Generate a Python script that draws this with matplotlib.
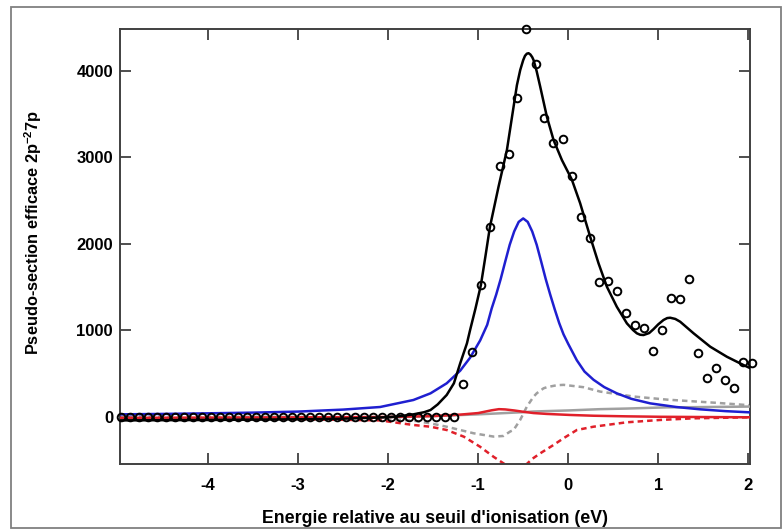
import matplotlib
matplotlib.use("Agg")
import matplotlib.pyplot as plt
from matplotlib.patches import Rectangle

plt.rcParams['font.family'] = ['Liberation Sans', 'DejaVu Sans']
plt.rcParams['axes.unicode_minus'] = False
plt.rcParams['mathtext.fontset'] = 'custom'
plt.rcParams['mathtext.rm'] = 'Liberation Sans:bold'
plt.rcParams['mathtext.bf'] = 'Liberation Sans:bold'
plt.rcParams['mathtext.it'] = 'Liberation Sans:bold'

# ---- experimental points (circles) ----
x_data = [-4.97, -4.87, -4.77, -4.67, -4.57, -4.47, -4.37, -4.27, -4.17, -4.07,
          -3.97, -3.87, -3.77, -3.67, -3.57, -3.47, -3.37, -3.27, -3.17, -3.07,
          -2.97, -2.87, -2.77, -2.67, -2.57, -2.47, -2.37, -2.27, -2.17, -2.07,
          -1.97, -1.87, -1.77, -1.67, -1.57, -1.47, -1.37, -1.27,
          -1.17, -1.07, -0.97, -0.87, -0.76, -0.66, -0.57, -0.47, -0.36, -0.27,
          -0.17, -0.06, 0.04, 0.14, 0.24, 0.34, 0.44, 0.54, 0.64, 0.74,
          0.84, 0.94, 1.04, 1.14, 1.24, 1.34, 1.44, 1.54, 1.64, 1.74,
          1.84, 1.94, 2.04]
y_data = [0, 0, 0, 0, 0, 0, 0, 0, 0, 0,
          0, 0, 0, 0, 0, 0, 0, 0, 0, 0,
          0, 0, 0, 0, 0, 0, 0, 0, 0, 0,
          0, 0, 0, 0, 0, 0, 0, 0,
          372, 742, 1520, 2187, 2900, 3035, 3686, 4476, 4072, 3447,
          3165, 3212, 2784, 2303, 2060, 1558, 1566, 1451, 1200, 1058,
          1020, 757, 997, 1374, 1358, 1590, 738, 441, 557, 422,
          333, 634, 622]

# ---- total fit (black) ----
x_fit = [-4.98, -4.0, -3.0, -2.5, -2.1, -1.9, -1.72, -1.6, -1.53, -1.45, -1.35,
         -1.27, -1.2, -1.125, -1.09, -1.03, -0.97, -0.92, -0.87, -0.774, -0.681,
         -0.607, -0.57, -0.533, -0.5, -0.48, -0.459, -0.44, -0.42, -0.40, -0.385,
         -0.35, -0.311, -0.237, -0.163,
         -0.07, 0.04, 0.133, 0.244, 0.337, 0.43, 0.54, 0.652, 0.72, 0.763, 0.80, 0.837,
         0.9, 0.948, 1.0, 1.059, 1.10, 1.133, 1.19, 1.244, 1.393, 1.578, 1.763, 1.948, 2.02]
y_fit = [-45, -40, -32, -25, -12, 0, 25, 50, 75, 140, 249,
         384, 615, 846, 1000, 1250, 1520, 1850, 2190, 2657, 3081,
         3581, 3830, 4006, 4120, 4170, 4195, 4200, 4185, 4155, 4121,
         3990, 3813, 3466, 3197,
         2965, 2740, 2465, 2079, 1771, 1500, 1269, 1077, 1000, 962, 945, 942,
         965, 1010, 1065, 1116, 1138, 1142, 1128, 1096, 962, 807, 691, 595, 560]

# ---- blue component ----
x_blue = [-4.98, -4.5, -4.0, -3.5, -3.0, -2.5, -2.09, -1.72, -1.53, -1.35, -1.2,
          -1.09, -0.978, -0.9, -0.85, -0.8, -0.75, -0.7, -0.65, -0.6, -0.55,
          -0.5, -0.45, -0.4, -0.35, -0.3, -0.25, -0.2, -0.15, -0.1, -0.052,
          0.0, 0.096, 0.181, 0.281, 0.4, 0.54, 0.7, 0.911, 1.2, 1.467, 1.75, 2.02]
y_blue = [25, 30, 37, 45, 57, 80, 110, 191, 268, 384, 530,
          680, 880, 1060, 1250, 1410, 1590, 1790, 1985, 2140, 2250,
          2290, 2250, 2140, 1985, 1790, 1590, 1410, 1240, 1080, 950,
          840, 650, 520, 425, 340, 268, 205, 152, 110, 83, 62, 48]

# ---- red solid component ----
x_red = [-4.98, -3.0, -2.0, -1.5, -1.2, -1.0, -0.85, -0.77, -0.7, -0.6, -0.5,
         -0.385, -0.24, 0.02, 0.28, 0.65, 1.02, 1.5, 2.02]
y_red = [-15, -10, -5, 5, 22, 40, 72, 85, 82, 70, 55,
         40, 30, 18, 9, 2, -3, -6, -9]

# ---- grey solid component ----
x_grey = [-4.98, -4.0, -3.0, -2.0, -1.5, -1.0, -0.5, -0.385, 0.0, 0.356, 0.65, 1.1, 1.39, 2.02]
y_grey = [-35, -30, -22, -10, 5, 25, 50, 58, 70, 85, 92, 106, 108, 115]

# ---- grey dashed component ----
x_gdash = [-4.98, -3.0, -2.5, -2.09, -1.72, -1.53, -1.35, -1.05, -0.83, -0.72,
           -0.644, -0.607, -0.533, -0.5, -0.459, -0.385, -0.348, -0.274, -0.237,
           -0.126, -0.05, 0.17, 0.356, 0.726, 1.1, 1.65, 2.02]
y_gdash = [0, -5, -15, -25, -48, -79, -118, -194, -232, -225,
           -173, -156, -38, 30, 115, 229, 270, 326, 339,
           362, 366, 339, 288, 231, 195, 158, 130]

# ---- red dashed component ----
x_rdash = [-4.98, -4.0, -3.0, -2.5, -2.09, -1.72, -1.53, -1.35, -1.16, -0.98,
           -0.83, -0.72, -0.65, -0.58, -0.5, -0.46, -0.4, -0.31, -0.163, -0.05,
           0.096, 0.28, 0.65, 1.02, 1.39, 2.02]
y_rdash = [-20, -25, -32, -38, -45, -98, -118, -156, -233, -349,
           -465, -541, -590, -605, -575, -549, -490, -425, -329, -250,
           -156, -118, -67, -40, -21, -9]

x_ticks = [-4, -3, -2, -1, 0, 1, 2]
y_ticks = [0, 1000, 2000, 3000, 4000]

fig = plt.figure(figsize=(7.84, 5.29), dpi=100)
ax = fig.add_axes([120 / 784, 65 / 529, 630 / 784, 435 / 529])

lw = 1.8
ax.plot(x_gdash, y_gdash, color='#a0a0a0', lw=lw, ls=(0, (2.2, 1.6)), zorder=2)
ax.plot(x_rdash, y_rdash, color='#e0202a', lw=lw, ls=(0, (2.2, 1.6)), zorder=2)
ax.plot(x_grey, y_grey, color='#a0a0a0', lw=lw, zorder=3)
ax.plot(x_red, y_red, color='#e0202a', lw=lw, zorder=3)
ax.plot(x_blue, y_blue, color='#1f1fd0', lw=lw, zorder=4)
ax.plot(x_fit, y_fit, color='black', lw=lw, zorder=5)
ax.plot(x_data, y_data, ls='none', marker='o', ms=5.5, mfc='none', mec='black',
        mew=1.4, zorder=6, clip_on=False)

ax.set_xlim(-4.98, 2.02)
ax.set_ylim(-549, 4480)
ax.set_xticks(x_ticks)
ax.set_xticklabels([str(t) for t in x_ticks])
ax.set_yticks(y_ticks)
ax.set_yticklabels([str(t) for t in y_ticks])
ax.tick_params(direction='in', length=8, width=1.3, color='#404040',
               top=True, right=True, labelsize=12)
ax.tick_params(axis='x', pad=10)
ax.tick_params(axis='y', pad=5)
for lab in ax.get_xticklabels() + ax.get_yticklabels():
    lab.set_fontweight('bold')
for sp in ax.spines.values():
    sp.set_linewidth(1.4)
    sp.set_color('#404040')

ax.set_xlabel("Energie relative au seuil d'ionisation (eV)", fontsize=12.8,
              fontweight='bold')
ax.xaxis.set_label_coords(0.5, -0.106)
ax.set_ylabel(r"Pseudo-section efficace 2p$^{-2}$7p", fontsize=11.8,
              fontweight='bold')
ax.yaxis.set_label_coords(-0.121, 0.533)

fig.patches.append(Rectangle((11 / 784, 1.5 / 529), 770 / 784, 520.5 / 529,
                             transform=fig.transFigure, fill=False,
                             edgecolor='#808080', lw=1.3))

fig.savefig('out.png', dpi=100)
